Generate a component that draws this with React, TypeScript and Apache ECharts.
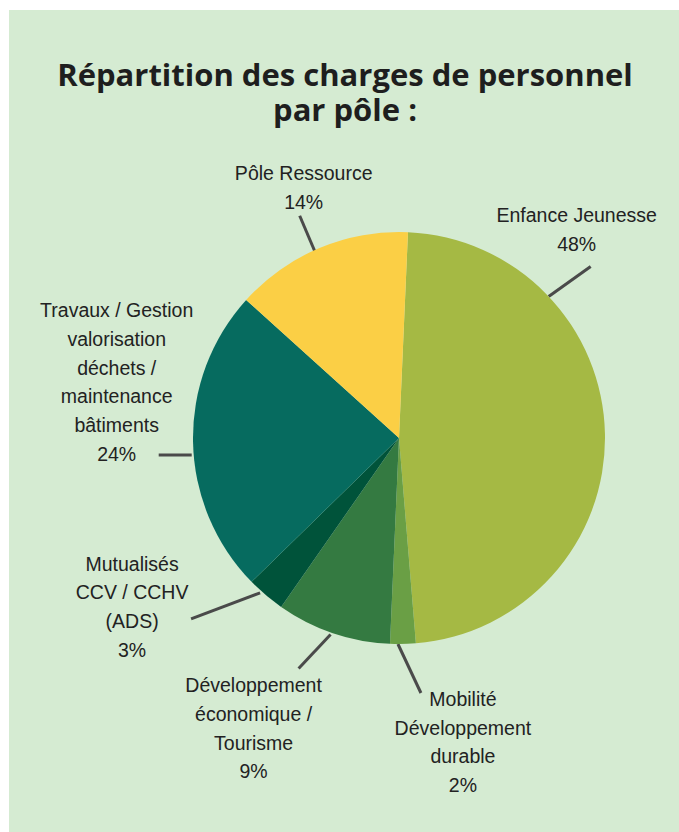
import React, { useEffect, useRef } from "react";
import * as echarts from "echarts";

// ---- data ----
const titleLines = ["Répartition des charges de personnel", "par pôle :"];
const categories = [
  "Enfance Jeunesse",
  "Mobilité\nDéveloppement\ndurable",
  "Développement\néconomique /\nTourisme",
  "Mutualisés\nCCV / CCHV\n(ADS)",
  "Travaux / Gestion\nvalorisation\ndéchets /\nmaintenance\nbâtiments",
  "Pôle Ressource",
];
const shares = [48, 2, 9, 3, 24, 14];
const sliceColors = ["#a5b944", "#6a9f45", "#347a41", "#00533a", "#066b5f", "#fbcf45"];

// ---- layout (not data) ----
const CX = 399;
const CY = 438;
const R = 206;
// line start angle (deg, counter-clockwise from east), radial offset, line vector, label offset from line end
const labelGeom = [
  { angle: 43.4, dr: 0, line: [42, -30], text: [-14, -37] },
  { angle: 269.7, dr: 0, line: [23, 49], text: [42, 49] },
  { angle: 250.8, dr: 2, line: [-32, 34], text: [-45, 60] },
  { angle: 228.1, dr: 2, line: [-69, 26], text: [-59, -12] },
  { angle: 184.7, dr: 2, line: [-33, 0], text: [-42, -73] },
  { angle: 114.3, dr: -6, line: [-17, -40], text: [4, -28] },
];
const titleTops = [73.5, 108.5];

export default function App() {
  const ref = useRef<HTMLDivElement>(null);

  useEffect(() => {
    if (!ref.current) return;
    const chart = echarts.init(ref.current, undefined, { renderer: "svg" });
    chart.setOption({
      animation: false,
      backgroundColor: "transparent",
      title: titleLines.map((t, i) => ({
        text: t,
        left: 345,
        top: titleTops[i],
        padding: 0,
        textAlign: "center",
        textVerticalAlign: "middle",
        textStyle: {
          fontFamily: "'Open Sans', sans-serif",
          fontWeight: "bold",
          fontSize: 31,
          lineHeight: 31,
          color: "#1e1e1e",
        },
      })),
      series: [
        {
          type: "pie",
          center: [CX, CY],
          radius: R,
          startAngle: 87.5,
          clockwise: true,
          avoidLabelOverlap: false,
          itemStyle: { borderWidth: 0 },
          label: {
            show: true,
            position: "outside",
            formatter: "{b}\n{c}%",
            fontFamily: "'Liberation Sans', Arial, sans-serif",
            fontSize: 19.5,
            lineHeight: 28.7,
            color: "#222222",
            align: "center",
          },
          labelLine: {
            show: true,
            length: 10,
            length2: 0,
            smooth: false,
            lineStyle: { color: "#4a4a4a", width: 3 },
          },
          emphasis: { disabled: true },
          labelLayout: (params: any) => {
            const g = labelGeom[params.dataIndex];
            const a = (g.angle * Math.PI) / 180;
            const sx = CX + (R + g.dr) * Math.cos(a);
            const sy = CY - (R + g.dr) * Math.sin(a);
            const ex = sx + g.line[0];
            const ey = sy + g.line[1];
            return {
              x: ex + g.text[0],
              y: ey + g.text[1],
              align: "center",
              verticalAlign: "middle",
              labelLinePoints: [
                [sx, sy],
                [ex, ey],
                [ex, ey],
              ],
            };
          },
          data: categories.map((name, i) => ({
            name,
            value: shares[i],
            itemStyle: { color: sliceColors[i] },
          })),
        },
      ],
    });
    return () => chart.dispose();
  }, []);

  return (
    <div style={{ position: "absolute", left: 0, top: 0, width: 679, height: 832, background: "#ffffff" }}>
      <div style={{ position: "absolute", left: 9, top: 10, width: 670, height: 822, background: "#d5ebd2" }} />
      <div ref={ref} style={{ position: "absolute", left: 0, top: 0, width: 679, height: 832 }} />
    </div>
  );
}
